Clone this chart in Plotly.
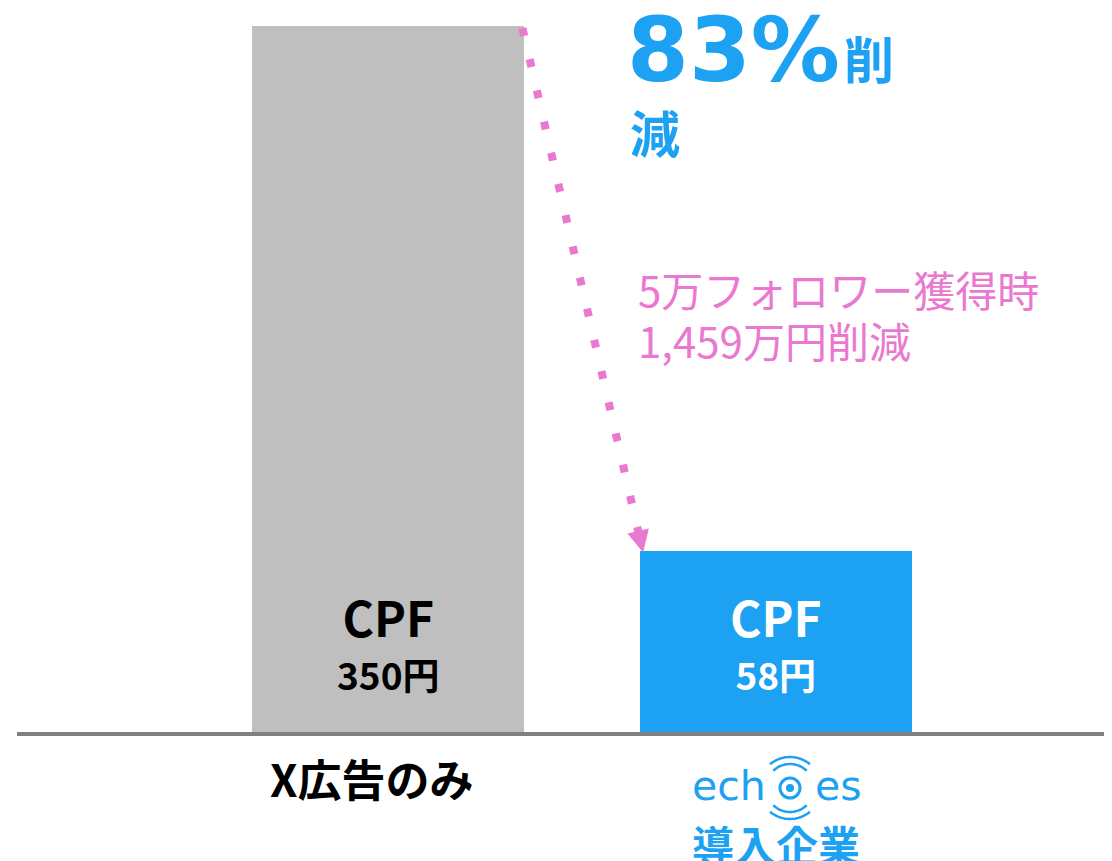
import numpy as np
import plotly.graph_objects as go

# ---------------- data ----------------
categories = ["X広告のみ", "echoes導入企業"]
cpf_yen = [350, 58]                 # CPF values shown in the bars
bar_heights = [350, 91]             # bar heights as drawn in the picture
bar_colors = ["#BFBFBF", "#1DA1F2"]
label_colors = ["#000000", "#FFFFFF"]
reduction_pct = 83
saving_lines = ["5万フォロワー獲得時", "1,459万円削減"]

BLUE = "#1DA1F2"
PINK = "#EB78CF"
GRAY_LINE = "#808080"

OFF = 8                 # page body margin
W, H = 1112 - OFF, 861 - OFF
BASE_Y = 736            # window pixel of baseline
PLOT_H = BASE_Y - OFF
BAR_W = 272 / 388
JP = "Noto Sans CJK JP"


def px(x):
    return (x - OFF) / W


def py(y):
    return (BASE_Y - y) / PLOT_H


x_pos = list(range(len(categories)))

fig = go.Figure()
fig.add_trace(go.Bar(
    x=x_pos, y=bar_heights, width=BAR_W,
    marker=dict(color=bar_colors, line=dict(width=0)),
    hoverinfo="skip",
))

# dotted arrow from top of first bar to top of second bar
arr_x = [x_pos[0] + BAR_W / 2 - 0.004, x_pos[1] - BAR_W / 2 + 0.008]
arr_y = [bar_heights[0] - 1.0, bar_heights[1] - 0.5]
fig.add_trace(go.Scatter(
    x=arr_x, y=arr_y, mode="lines",
    line=dict(color=PINK, width=8, dash="8px,24px"),
    hoverinfo="skip",
))

annotations = []
# arrow head at the end of the dotted line
t = 0.03
annotations.append(dict(
    x=arr_x[1], y=arr_y[1], xref="x", yref="y",
    ax=arr_x[1] + (arr_x[0] - arr_x[1]) * t, ay=arr_y[1] + (arr_y[0] - arr_y[1]) * t,
    axref="x", ayref="y", text="", showarrow=True,
    arrowhead=2, arrowsize=1.1, arrowwidth=4, arrowcolor=PINK))

# labels inside bars (one block per bar)
for i in x_pos:
    annotations.append(dict(
        x=i, xref="x", y=py(641), yref="paper",
        text=f"<span style='font-size:48px'>CPF</span><br>"
             f"<span style='font-size:37px'>{cpf_yen[i]}円</span>",
        showarrow=False,
        font=dict(family=JP, size=41, color=label_colors[i], weight="bold"),
        xanchor="center", yanchor="middle"))

# category label 1
annotations.append(dict(
    x=x_pos[0], xref="x", xshift=-16, y=py(778), yref="paper", text=categories[0],
    showarrow=False, font=dict(family=JP, size=44, color="#000000", weight="bold"),
    xanchor="center", yanchor="middle"))

# echoes logo text
annotations.append(dict(
    x=px(768), xref="paper", y=py(786), yref="paper", text="ech", showarrow=False,
    font=dict(family="DejaVu Sans", size=41, color=BLUE), xanchor="right", yanchor="middle"))
annotations.append(dict(
    x=px(813), xref="paper", y=py(786), yref="paper", text="es", showarrow=False,
    font=dict(family="DejaVu Sans", size=41, color=BLUE), xanchor="left", yanchor="middle"))
annotations.append(dict(
    x=x_pos[1], xref="x", y=py(843), yref="paper", text="導入企業", showarrow=False,
    font=dict(family=JP, size=42, color=BLUE, weight="bold"),
    xanchor="center", yanchor="middle"))

# 83% reduction
annotations.append(dict(
    x=px(625), xref="paper", y=py(50), yref="paper", text=f"{reduction_pct}%",
    showarrow=False, font=dict(family="DejaVu Sans", size=89, color=BLUE, weight="bold"),
    xanchor="left", yanchor="middle"))
annotations.append(dict(
    x=px(842), xref="paper", y=py(57), yref="paper", text="削", showarrow=False,
    font=dict(family=JP, size=50, color=BLUE, weight="bold"),
    xanchor="left", yanchor="middle"))
annotations.append(dict(
    x=px(628), xref="paper", y=py(131), yref="paper", text="減", showarrow=False,
    font=dict(family=JP, size=50, color=BLUE, weight="bold"),
    xanchor="left", yanchor="middle"))

# savings text (one block, line pitch set by base font size)
annotations.append(dict(
    x=px(636), xref="paper", y=py(314), yref="paper",
    text="<br>".join(f"<span style='font-size:42px'>{s}</span>" for s in saving_lines),
    showarrow=False, align="left",
    font=dict(family=JP, size=39, color=PINK),
    xanchor="left", yanchor="middle"))

shapes = []
# baseline
shapes.append(dict(type="line", xref="paper", yref="y", x0=px(17), x1=1, y0=0, y1=0,
                   line=dict(color=GRAY_LINE, width=8), layer="above"))

# echoes logo symbol (decoration)
cx, cy = 790, 788
shapes.append(dict(type="circle", xref="paper", yref="paper",
                   x0=px(cx - 10), x1=px(cx + 10), y0=py(cy + 10), y1=py(cy - 10),
                   line=dict(color=BLUE, width=3)))
shapes.append(dict(type="circle", xref="paper", yref="paper",
                   x0=px(cx - 4), x1=px(cx + 4), y0=py(cy + 4), y1=py(cy - 4),
                   fillcolor=BLUE, line=dict(color=BLUE, width=0)))
for r, half in [(24, 44), (31, 40)]:
    for sgn in (-1, 1):
        angs = np.linspace(-half, half, 24)
        pts = [(cx + r * np.sin(np.radians(a)), cy + sgn * r * np.cos(np.radians(a))) for a in angs]
        path = "M" + " L".join(f"{px(x):.5f},{py(y):.5f}" for x, y in pts)
        shapes.append(dict(type="path", xref="paper", yref="paper", path=path,
                           line=dict(color=BLUE, width=2.5)))

fig.update_layout(
    width=W, height=H,
    margin=dict(l=0, r=0, t=0, b=H - PLOT_H, pad=0),
    paper_bgcolor="white", plot_bgcolor="white",
    showlegend=False,
    xaxis=dict(range=[-(388 - OFF) / 388, (W - (388 - OFF)) / 388], visible=False, fixedrange=True),
    yaxis=dict(range=[0, bar_heights[0] * PLOT_H / 710], visible=False, fixedrange=True),
    annotations=annotations, shapes=shapes,
    bargap=0,
)

fig.write_html("out.html", config={"displayModeBar": False})
